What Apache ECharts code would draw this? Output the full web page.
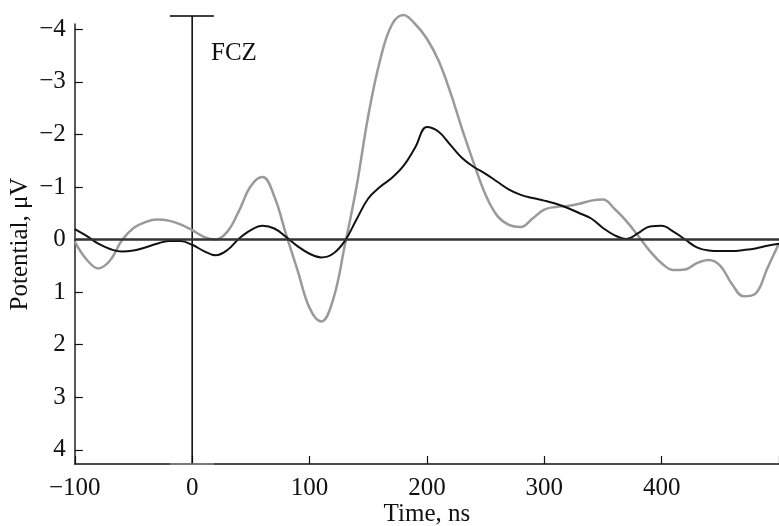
<!DOCTYPE html>
<html>
<head>
<meta charset="utf-8">
<script src="https://cdn.jsdelivr.net/npm/echarts@6/dist/echarts.min.js"></script>
<style>
  html, body { margin: 0; padding: 0; background: #fff; }
  #chart { width: 779px; height: 526px; }
</style>
</head>
<body>
<div id="chart"></div>
<script>
// time points, ns
const times = [
  -100, -90, -80, -70, -60, -50, -40, -30, -20, -10,
  0, 10, 20, 30, 40, 50, 60, 70, 80, 90,
  100, 110, 120, 130, 140, 150, 160, 170, 180, 190,
  200, 210, 220, 230, 240, 250, 260, 270, 280, 290,
  300, 310, 320, 330, 340, 350, 360, 370, 380, 390,
  400, 410, 420, 430, 440, 450, 460, 470, 480, 490,
  500
];
// gray curve (larger amplitude), µV
const grayWave = [
  0.04, 0.38, 0.55, 0.4, 0.02, -0.22, -0.33, -0.38, -0.36, -0.29,
  -0.18, -0.05, 0.0, -0.15, -0.55, -1.02, -1.19, -0.82, -0.1, 0.6,
  1.3, 1.56, 1.15, 0.12, -1.0, -2.35, -3.4, -4.08, -4.27, -4.1,
  -3.82, -3.4, -2.8, -2.1, -1.45, -0.85, -0.45, -0.28, -0.24, -0.4,
  -0.57, -0.62, -0.64, -0.68, -0.74, -0.76, -0.58, -0.35, -0.07, 0.22,
  0.45, 0.58, 0.57, 0.45, 0.39, 0.5, 0.85, 1.08, 1.03, 0.55,
  0.07
];
// black curve, µV
const blackWave = [
  -0.2, -0.07, 0.08, 0.18, 0.23, 0.21, 0.15, 0.08, 0.03, 0.03,
  0.1, 0.22, 0.3, 0.2, -0.02, -0.18, -0.26, -0.21, -0.05, 0.13,
  0.27, 0.34, 0.27, 0.03, -0.38, -0.78, -1.0, -1.17, -1.4, -1.75,
  -2.14, -2.05, -1.8, -1.55, -1.38, -1.25, -1.1, -0.95, -0.85, -0.79,
  -0.74, -0.68, -0.6, -0.5, -0.4, -0.22, -0.08, -0.01, -0.12, -0.25,
  -0.26, -0.15, 0.0, 0.15, 0.21, 0.22, 0.22, 0.2, 0.17, 0.12,
  0.08
];
const yTicks = [-4, -3, -2, -1, 0, 1, 2, 3, 4];
// stimulus onset marker at t = 0
const onsetLine = [[0, -4.25], [0, 4.27]];
const onsetTopCap = [[-19, -4.25], [18.5, -4.25]];
const onsetBottomCap = [[-19, 4.27], [18.5, 4.27]];

const font = "'Liberation Serif', 'Times New Roman', serif";
const chart = echarts.init(document.getElementById("chart"));

const pairs = (vals) => times.map((t, i) => [t, vals[i]]);

chart.setOption({
  animation: false,
  title: {
    text: "FCZ",
    left: 206,
    top: 36,
    textStyle: { fontFamily: font, fontSize: 25, fontWeight: "normal", color: "#111" },
  },
  grid: { left: 74.8, right: 0, top: 24, bottom: 62, outerBoundsMode: "none", containLabel: false },
  xAxis: {
    type: "value",
    min: -100,
    max: 500,
    interval: 100,
    name: "Time, ns",
    nameLocation: "middle",
    nameGap: 38,
    nameMoveOverlap: false,
    nameTextStyle: { fontFamily: font, fontSize: 25, color: "#111" },
    splitLine: { show: false },
    axisLine: { onZero: false, lineStyle: { color: "#111", width: 1.5 } },
    axisTick: { inside: true, length: 8, lineStyle: { color: "#111", width: 1.2 } },
    axisLabel: {
      fontFamily: font,
      fontSize: 25,
      color: "#111",
      margin: 12,
      formatter: (v) => (v === 500 ? "" : String(v).replace("-", "\u2212")),
    },
  },
  yAxis: {
    type: "value",
    inverse: true,
    min: -4.1,
    max: 4.27,
    name: "Potential, \u03bcV",
    nameLocation: "middle",
    nameGap: 42,
    nameMoveOverlap: false,
    nameTextStyle: { fontFamily: font, fontSize: 25, color: "#111" },
    splitLine: { show: false },
    axisLine: { show: true, onZero: false, lineStyle: { color: "#222", width: 1.5 } },
    axisTick: {
      inside: true,
      length: 8,
      customValues: yTicks,
      lineStyle: { color: "#111", width: 1.2 },
    },
    axisLabel: {
      fontFamily: font,
      fontSize: 25,
      color: "#111",
      margin: 9,
      customValues: yTicks,
      formatter: (v) => String(v).replace("-", "\u2212"),
    },
  },
  series: [
    {
      type: "line",
      data: onsetLine,
      clip: false,
      symbol: "none",
      silent: true,
      lineStyle: { color: "#000", width: 1.5 },
      z: 1,
    },
    {
      type: "line",
      data: onsetTopCap,
      clip: false,
      symbol: "none",
      silent: true,
      lineStyle: { color: "#000", width: 1.5 },
      z: 1,
    },
    {
      type: "line",
      data: onsetBottomCap,
      clip: false,
      symbol: "none",
      silent: true,
      lineStyle: { color: "#888", width: 1.5 },
      z: 1,
    },
    {
      type: "line",
      data: pairs(grayWave),
      smooth: 0.4,
      clip: false,
      symbol: "none",
      lineStyle: { color: "#9a9a9a", width: 2.5 },
      markLine: {
        silent: true,
        symbol: "none",
        label: { show: false },
        lineStyle: { color: "#333", width: 2.5, type: "solid" },
        data: [{ yAxis: 0 }],
      },
      z: 2,
    },
    {
      type: "line",
      data: pairs(blackWave),
      smooth: 0.4,
      clip: false,
      symbol: "none",
      lineStyle: { color: "#111", width: 2 },
      z: 3,
    },
  ],
});
</script>
</body>
</html>
